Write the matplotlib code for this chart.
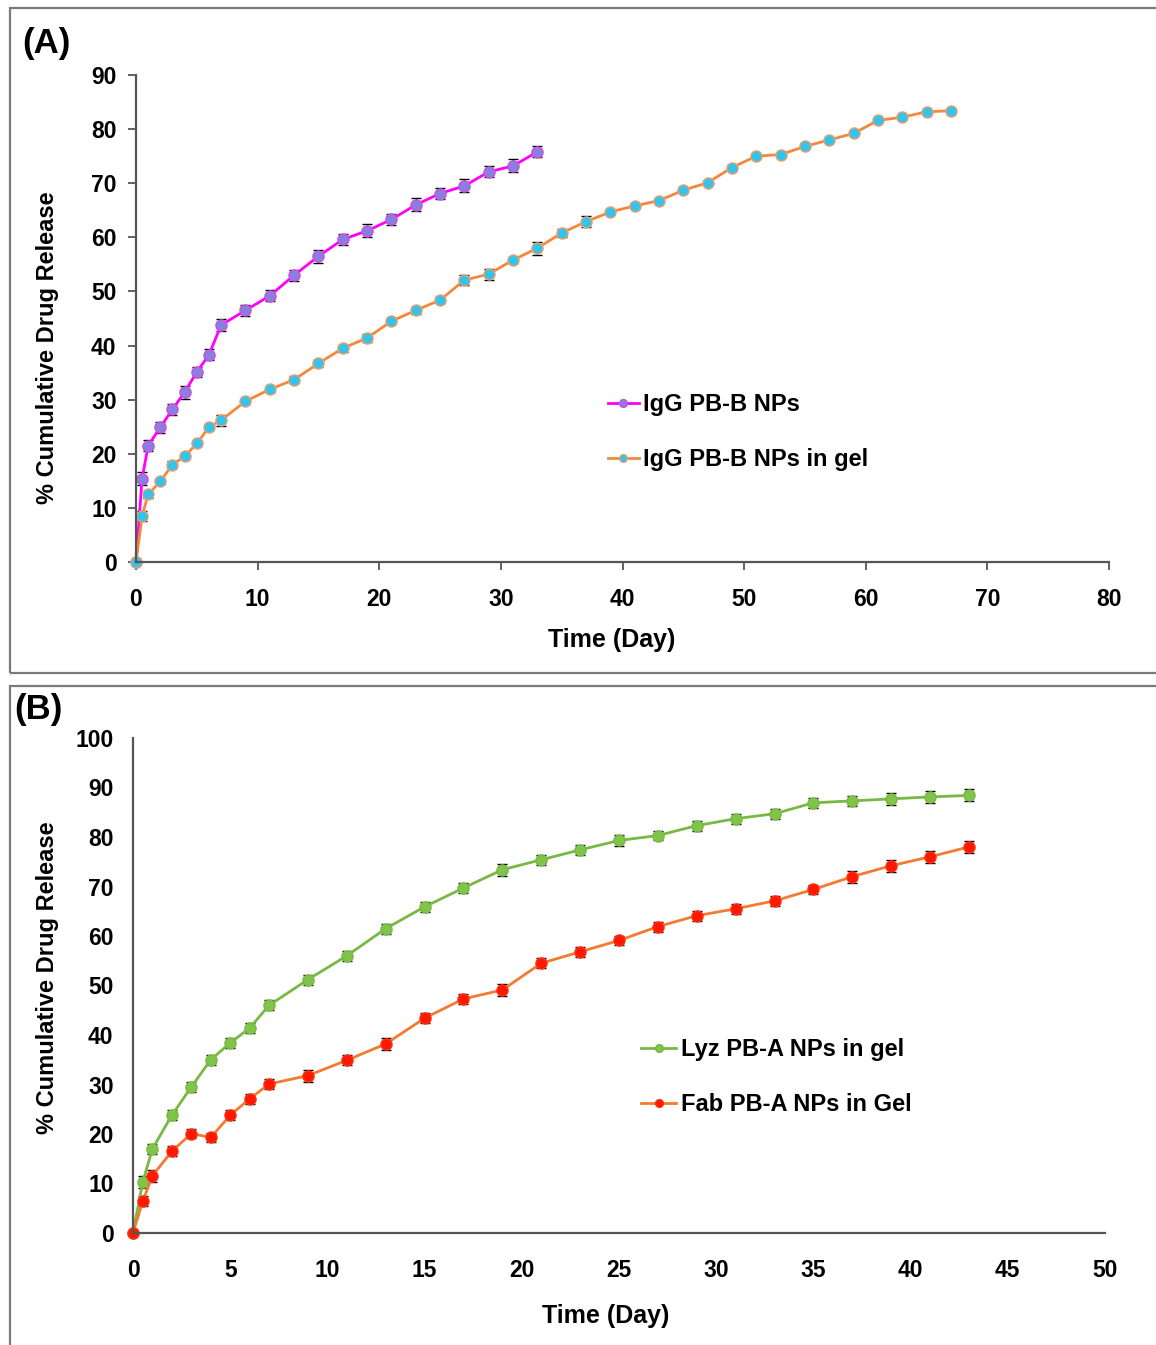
import numpy as np
import matplotlib
matplotlib.use("Agg")
import matplotlib.pyplot as plt
from matplotlib.patches import Rectangle

plt.rcParams['font.family'] = ['Liberation Sans', 'DejaVu Sans']
plt.rcParams['font.weight'] = 'bold'

# panel A data
days_igg = [0, 0.5, 1, 2, 3, 4, 5, 6, 7, 9, 11, 13, 15, 17, 19, 21, 23, 25, 27, 29, 31, 33]
igg_np = [0, 15.4, 21.5, 24.9, 28.2, 31.4, 35.1, 38.3, 43.8, 46.5, 49.2, 53.0, 56.5, 59.6,
          61.2, 63.3, 66.0, 68.1, 69.5, 72.1, 73.2, 75.8]
igg_np_err = [0, 1.2, 1.0, 1.0, 1.0, 1.2, 1.0, 1.0, 1.2, 1.0, 1.0, 1.0, 1.2, 1.0, 1.2, 1.0,
              1.2, 1.0, 1.2, 1.0, 1.2, 1.0]

days_gel = [0, 0.5, 1, 2, 3, 4, 5, 6, 7, 9, 11, 13, 15, 17, 19, 21, 23, 25, 27, 29, 31, 33,
            35, 37, 39, 41, 43, 45, 47, 49, 51, 53, 55, 57, 59, 61, 63, 65, 67]
igg_gel = [0, 8.5, 12.5, 14.9, 18.0, 19.5, 21.9, 24.9, 26.2, 29.7, 31.9, 33.7, 36.7, 39.5,
           41.4, 44.5, 46.5, 48.4, 52.1, 53.2, 55.8, 58.0, 60.8, 62.9, 64.7, 65.8, 66.8,
           68.7, 70.1, 72.9, 75.0, 75.3, 76.8, 78.0, 79.2, 81.6, 82.2, 83.2, 83.4]
igg_gel_err = [0, 1.0, 0.6, 0.5, 0.6, 0.5, 0.5, 0.5, 1.0, 0.5, 0.5, 0.6, 0.6, 0.6, 0.8, 0.5,
               0.6, 0.6, 1.0, 1.0, 0.5, 1.2, 0.8, 1.0, 0.4, 0.3, 0.3, 0.3, 0.3, 0.5, 0.3,
               0.3, 0.3, 0.3, 0.3, 0.3, 0.3, 0.3, 0.3]
labels_a = ["IgG PB-B NPs", "IgG PB-B NPs in gel"]

# panel B data
days_b = [0, 0.5, 1, 2, 3, 4, 5, 6, 7, 9, 11, 13, 15, 17, 19, 21, 23, 25, 27, 29, 31, 33,
          35, 37, 39, 41, 43]
lyz_gel = [0, 10.3, 17.0, 23.8, 29.5, 35.0, 38.4, 41.4, 46.0, 51.2, 56.0, 61.5, 65.9, 69.7,
           73.4, 75.4, 77.4, 79.3, 80.3, 82.3, 83.7, 84.7, 86.9, 87.3, 87.7, 88.1, 88.4]
lyz_err = [0, 1.2, 1.0, 1.0, 1.0, 1.0, 1.0, 1.0, 1.0, 1.0, 1.0, 1.0, 1.0, 1.0, 1.2, 1.0,
           1.0, 1.2, 1.0, 1.0, 1.0, 1.0, 1.0, 1.0, 1.2, 1.2, 1.2]
fab_gel = [0, 6.4, 11.6, 16.5, 20.1, 19.3, 23.8, 27.1, 30.1, 31.8, 34.9, 38.2, 43.4, 47.3,
           49.1, 54.5, 56.8, 59.1, 61.9, 64.1, 65.5, 67.1, 69.4, 72.0, 74.2, 76.0, 78.0]
fab_err = [0, 1.0, 1.2, 1.0, 1.0, 1.0, 1.0, 1.0, 1.0, 1.2, 1.0, 1.2, 1.0, 1.0, 1.2, 1.0,
           1.0, 1.0, 1.0, 1.0, 1.0, 1.0, 1.0, 1.2, 1.2, 1.2, 1.2]
labels_b = ["Lyz PB-A NPs in gel", "Fab PB-A NPs in Gel"]

W, H = 1156, 1345
fig = plt.figure(figsize=(W / 100, H / 100), dpi=100)

# panel frames
fig.patches.append(Rectangle((10 / W, 1 - 673 / H), 2.0, (673 - 8) / H, transform=fig.transFigure,
                             fill=False, edgecolor="#7a7a7a", lw=1.6))
fig.patches.append(Rectangle((10 / W, -0.5), 2.0, 0.5 + 1 - 686 / H, transform=fig.transFigure,
                             fill=False, edgecolor="#7a7a7a", lw=1.6))

ax1 = fig.add_axes([136 / W, 1 - 562 / H, (1109 - 136) / W, (562 - 75) / H])
ax2 = fig.add_axes([133 / W, 1 - 1233 / H, (1105 - 133) / W, (1233 - 738) / H])

def style(ax):
    for s in ["top", "right"]:
        ax.spines[s].set_visible(False)
    for s in ["left", "bottom"]:
        ax.spines[s].set_color("#555555")
        ax.spines[s].set_linewidth(1.6)
    for lab in ax.get_xticklabels() + ax.get_yticklabels():
        lab.set_fontweight("bold")

ebkw = dict(ecolor="black", elinewidth=1.0, capsize=3.5, capthick=1.0, ms=8, lw=2.0, mew=1.0)

def draw(ax, x, y, err, **kw):
    c = ax.errorbar(x, y, yerr=err, **ebkw, **kw)
    c.lines[0].set_clip_on(False)
    return c.lines[0]

# plot A
h1 = draw(ax1, days_igg, igg_np, igg_np_err, color="#ff00ff", marker="o",
          mfc="#8a7fe0", mec="#c84fe0")
h2 = draw(ax1, days_gel, igg_gel, igg_gel_err, color="#f5873c", marker="o",
          mfc="#33c4ec", mec="#e8a070")
ax1.set_xlim(0, 80)
ax1.set_ylim(0, 90)
ax1.set_xticks(range(0, 81, 10))
ax1.set_yticks(range(0, 91, 10))
ax1.tick_params(axis="both", labelsize=16.5, length=6, width=1.3, color="#555555")
ax1.tick_params(axis="x", pad=13)
ax1.tick_params(axis="y", pad=8)
style(ax1)
ax1.set_xlabel("Time (Day)", fontsize=18, fontweight="bold")
ax1.xaxis.set_label_coords((612 - 136) / 973, -(640 - 562) / 487)
ax1.xaxis.label.set_va("center")
ax1.set_ylabel("% Cumulative Drug Release", fontsize=17, fontweight="bold")
ax1.yaxis.set_label_coords(-(136 - 48) / 973, (562 - 348) / 487)
ax1.yaxis.label.set_va("center")
ax1.legend([h1, h2], labels_a, loc="upper left", bbox_to_anchor=(608 / W, 1 - 393 / H),
           bbox_transform=fig.transFigure, frameon=False, fontsize=17, handlelength=1.3,
           handletextpad=0.2, labelspacing=1.35, borderpad=0, borderaxespad=0, markerscale=0.7)
fig.text(22 / W, 1 - 44 / H, "(A)", fontsize=25, fontweight="bold", va="center", ha="left")

# plot B
h3 = draw(ax2, days_b, lyz_gel, lyz_err, color="#78b944", marker="o",
          mfc="#80c44a", mec="#78b944")
h4 = draw(ax2, days_b, fab_gel, fab_err, color="#f47a30", marker="o",
          mfc="#ff1800", mec="#ff3010")
ax2.set_xlim(0, 50)
ax2.set_ylim(0, 100)
ax2.set_xticks(range(0, 51, 5))
ax2.set_yticks(range(0, 101, 10))
ax2.tick_params(axis="both", labelsize=16.5, length=0)
ax2.tick_params(axis="x", pad=19)
ax2.tick_params(axis="y", pad=14)
style(ax2)
ax2.set_xlabel("Time (Day)", fontsize=18, fontweight="bold")
ax2.xaxis.set_label_coords((606 - 133) / 972, -(1316 - 1233) / 495)
ax2.xaxis.label.set_va("center")
ax2.set_ylabel("% Cumulative Drug Release", fontsize=17, fontweight="bold")
ax2.yaxis.set_label_coords(-(133 - 48) / 972, (1233 - 978) / 495)
ax2.yaxis.label.set_va("center")
ax2.legend([h3, h4], labels_b, loc="upper left", bbox_to_anchor=(641 / W, 1 - 1038 / H),
           bbox_transform=fig.transFigure, frameon=False, fontsize=17, handlelength=1.5,
           handletextpad=0.2, labelspacing=1.35, borderpad=0, borderaxespad=0, markerscale=0.7)
fig.text(14 / W, 1 - 710 / H, "(B)", fontsize=25, fontweight="bold", va="center", ha="left")

fig.savefig("out.png", dpi=100)
